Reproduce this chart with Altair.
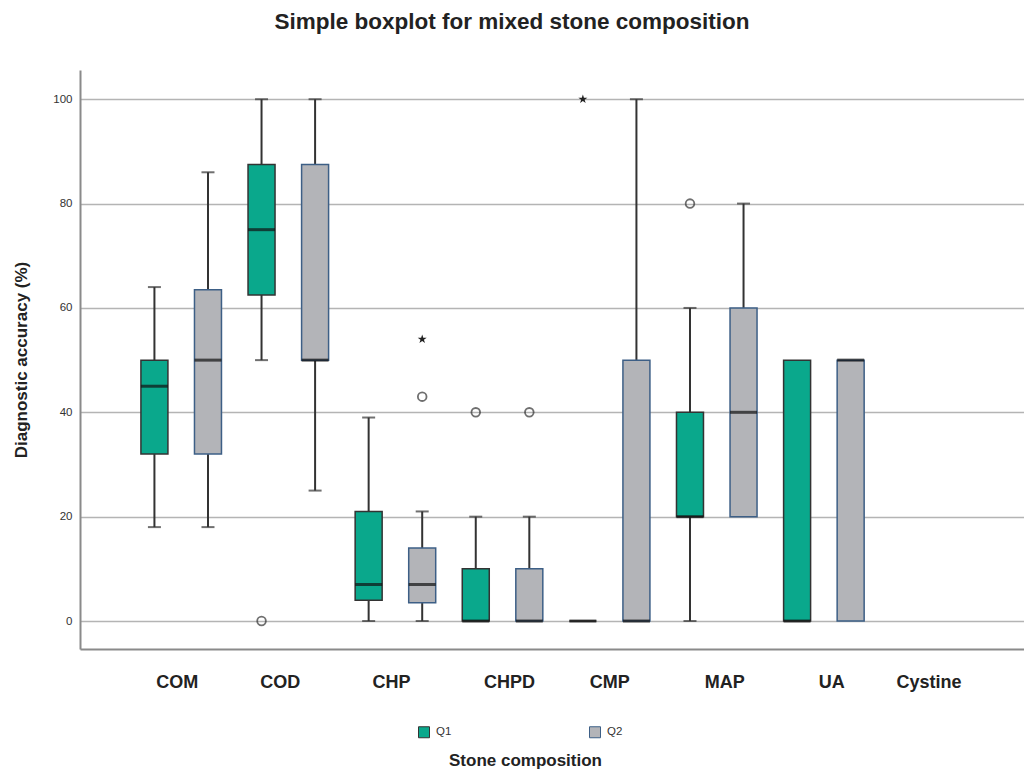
import altair as alt
import pandas as pd

cats = ["COM", "COD", "CHP", "CHPD", "CMP", "MAP", "UA", "Cystine"]
groups = ["Q1", "Q2"]

# Box statistics per category (Cystine has no data)
q1_min = [18, 50, 0, 0, 0, 0, 0, None]
q1_lo = [32, 62.5, 4, 0, 0, 20, 0, None]
q1_med = [45, 75, 7, 0, 0, 20, 0, None]
q1_hi = [50, 87.5, 21, 10, 0, 40, 50, None]
q1_max = [64, 100, 39, 20, 0, 60, 50, None]

q2_min = [18, 25, 0, 0, 0, 20, 0, None]
q2_lo = [32, 50, 3.5, 0, 0, 20, 0, None]
q2_med = [50, 50, 7, 0, 0, 40, 50, None]
q2_hi = [63.5, 87.5, 14, 10, 50, 60, 50, None]
q2_max = [86, 100, 21, 20, 100, 80, 50, None]

# Outliers
circ_cat = ["COD", "CHP", "CHPD", "CHPD", "MAP"]
circ_grp = ["Q1", "Q2", "Q1", "Q2", "Q1"]
circ_val = [0, 43, 40, 40, 80]
star_cat = ["CHP", "CMP"]
star_grp = ["Q2", "Q1"]
star_val = [54, 100]

FONT = "Liberation Sans"
TEAL = "#0aa88c"
GRAY = "#b3b4b8"

box_rows, whisk_rows, cap_rows = [], [], []
for g, mn, lo, md, hi, mx in [("Q1", q1_min, q1_lo, q1_med, q1_hi, q1_max),
                              ("Q2", q2_min, q2_lo, q2_med, q2_hi, q2_max)]:
    for i, c in enumerate(cats):
        if md[i] is None:
            continue
        box_rows.append(dict(cat=c, grp=g, lo=lo[i], hi=hi[i], med=md[i]))
        if mx[i] > hi[i]:
            whisk_rows.append(dict(cat=c, grp=g, a=hi[i], b=mx[i]))
            cap_rows.append(dict(cat=c, grp=g, v=mx[i]))
        if mn[i] < lo[i]:
            whisk_rows.append(dict(cat=c, grp=g, a=mn[i], b=lo[i]))
            cap_rows.append(dict(cat=c, grp=g, v=mn[i]))

box_df = pd.DataFrame(box_rows)
whisk_df = pd.DataFrame(whisk_rows)
cap_df = pd.DataFrame(cap_rows)
circ_df = pd.DataFrame(dict(cat=circ_cat, grp=circ_grp, v=circ_val))
star_df = pd.DataFrame(dict(cat=star_cat, grp=star_grp, v=star_val))

label_shift = ("datum.value=='COD'?-8:(datum.value=='COM'||datum.value=='CHP')?-4:"
               "datum.value=='CHPD'?7:(datum.value=='MAP'||datum.value=='UA')?8:"
               "datum.value=='Cystine'?-2:0")

xscale = alt.Scale(domain=cats, paddingInner=0, paddingOuter=0.4066, align=0.547)
x_enc = alt.X("cat:N", sort=cats, scale=xscale,
              axis=alt.Axis(title="Stone composition", labelAngle=0, ticks=False,
                            labelFontSize=18, labelFontWeight="bold", labelColor="#222",
                            labelFont=FONT, labelPadding=24, domainColor="#8a8a8a",
                            domainWidth=2, grid=False,
                            labelOffset=alt.ExprRef(expr=label_shift),
                            titleFont=FONT, titleFontSize=17, titleFontWeight="bold",
                            titleColor="#222", titleX=445, titleY=111,
                            titleBaseline="middle",
                            titleAnchor="start", titleAlign="center"))
xo = alt.XOffset("grp:N", scale=alt.Scale(domain=groups, paddingInner=0, paddingOuter=0))
yscale = alt.Scale(domain=[-5.36, 105.6], nice=False, zero=False)
y_axis = alt.Axis(title="Diagnostic accuracy (%)", values=[0, 20, 40, 60, 80, 100],
                  tickSize=0, labelFontSize=11.5, labelColor="#333", labelFont=FONT,
                  labelPadding=8, domainColor="#8a8a8a", domainWidth=2,
                  gridColor="#b4b4b4", gridWidth=1.5,
                  titleFont=FONT, titleFontSize=17, titleFontWeight="bold",
                  titleColor="#222", titlePadding=22)

whiskers = alt.Chart(whisk_df).mark_rule(color="#333", strokeWidth=2).encode(
    x=x_enc, xOffset=xo,
    y=alt.Y("a:Q", scale=yscale, axis=y_axis), y2="b:Q")

caps = alt.Chart(cap_df).mark_tick(color="#333", thickness=2, size=13).encode(
    x=x_enc, xOffset=xo, y=alt.Y("v:Q", scale=yscale))

boxes = alt.Chart(box_df).mark_bar(width=27, strokeWidth=1.5).encode(
    x=x_enc, xOffset=xo,
    y=alt.Y("lo:Q", scale=yscale), y2="hi:Q",
    color=alt.Color("grp:N", scale=alt.Scale(domain=groups, range=[TEAL, GRAY]),
                    legend=alt.Legend(title=None, orient="none", legendX=338, legendY=656,
                                      direction="horizontal", symbolType="square",
                                      symbolSize=121, symbolStrokeColor="#333",
                                      symbolStrokeWidth=1, labelFontSize=11.5,
                                      labelColor="#333", labelFont=FONT,
                                      columnPadding=135, labelOffset=6)),
    stroke=alt.Stroke("grp:N", scale=alt.Scale(domain=groups, range=["#333333", "#3d5f86"]),
                      legend=None))

medians = alt.Chart(box_df).mark_tick(color="#111", thickness=3, size=27).encode(
    x=x_enc, xOffset=xo, y=alt.Y("med:Q", scale=yscale))

circles = alt.Chart(circ_df).mark_point(shape="circle", filled=False, color="#333",
                                        strokeWidth=1.8, size=75).encode(
    x=x_enc, xOffset=xo, y=alt.Y("v:Q", scale=yscale))

STAR = ("M0,-1L0.2245,-0.309L0.951,-0.309L0.363,0.118L0.588,0.809L0,0.382"
        "L-0.588,0.809L-0.363,0.118L-0.951,-0.309L-0.2245,-0.309Z")
stars = alt.Chart(star_df).mark_point(shape=STAR, filled=True, color="#222",
                                      opacity=1, size=90).encode(
    x=x_enc, xOffset=xo, y=alt.Y("v:Q", scale=yscale))

chart = alt.layer(whiskers, caps, boxes, medians, circles, stars).properties(
    width=944, height=579,
    padding={"left": 80, "top": 70, "right": 0, "bottom": 123},
    autosize="none",
    title=alt.TitleParams("Simple boxplot for mixed stone composition",
                          font=FONT, fontSize=22.5, fontWeight="bold", color="#222",
                          anchor="middle", dx=-40, offset=37),
).configure(background="white").configure_view(stroke=None)

chart.save("out.html", embed_options={"renderer": "svg", "actions": False})
